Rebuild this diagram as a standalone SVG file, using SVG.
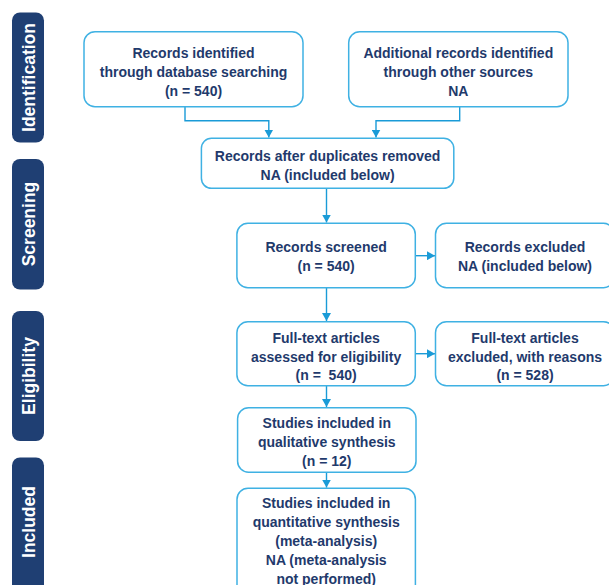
<svg xmlns="http://www.w3.org/2000/svg" width="609" height="585" viewBox="0 0 609 585">
<defs>
<marker id="ah" markerUnits="userSpaceOnUse" markerWidth="9" markerHeight="9" refX="8" refY="4.5" orient="auto">
<path d="M0,0 L8,4.5 L0,9 z" fill="#1a9bd7"/>
</marker>
<style>
.bar{fill:#1f3f73}
.bt{fill:#fff;font-family:"Liberation Sans",Arial,sans-serif;font-weight:bold;font-size:17.5px;text-anchor:middle}
.box{fill:#fff;stroke:#3fb1e3;stroke-width:1.5}
.t{fill:#1f3a6c;font-family:"Liberation Sans",Arial,sans-serif;font-weight:bold;font-size:14px;text-anchor:middle}
.c{fill:none;stroke:#1a9bd7;stroke-width:1.4;marker-end:url(#ah)}
</style>
</defs>
<rect width="609" height="585" fill="#fff"/>
<g id="stage-identification"><rect class="bar" x="12" y="12.5" width="32" height="130" rx="8"/><text class="bt" transform="translate(34.5,77.5) rotate(-90)">Identification</text></g>
<g id="stage-screening"><rect class="bar" x="12" y="159" width="32" height="130.5" rx="8"/><text class="bt" transform="translate(34.5,224) rotate(-90)">Screening</text></g>
<g id="stage-eligibility"><rect class="bar" x="12" y="311" width="32" height="130" rx="8"/><text class="bt" transform="translate(34.5,376) rotate(-90)">Eligibility</text></g>
<g id="stage-included"><rect class="bar" x="12" y="457.5" width="32" height="140" rx="8"/><text class="bt" transform="translate(34.5,522) rotate(-90)">Included</text></g>

<g id="connectors">
<path class="c" d="M185,106.7 V120.7 H268.8 V137.5"/>
<path class="c" d="M459.7,106.7 V120.7 H376 V137.5"/>
<path class="c" d="M326.5,188.3 V222.5"/>
<path class="c" d="M415.3,255.7 H435"/>
<path class="c" d="M326.5,287.7 V321"/>
<path class="c" d="M415.3,353.7 H435"/>
<path class="c" d="M326.5,385.7 V407"/>
<path class="c" d="M326.5,472.3 V487.6"/>
</g>

<g id="n-database"><rect class="box" x="84" y="31.7" width="219" height="75" rx="11"/>
<text class="t" x="193.5" y="57.7">Records identified</text>
<text class="t" x="193.5" y="76.9">through database searching</text>
<text class="t" x="193.5" y="96.1">(n = 540)</text></g>

<g id="n-other"><rect class="box" x="348.7" y="31.7" width="219.3" height="75" rx="11"/>
<text class="t" x="458.3" y="57.7">Additional records identified</text>
<text class="t" x="458.3" y="76.9">through other sources</text>
<text class="t" x="458.3" y="96.1">NA</text></g>

<g id="n-duplicates"><rect class="box" x="201.4" y="138.3" width="252.4" height="50" rx="10"/>
<text class="t" x="327.6" y="161">Records after duplicates removed</text>
<text class="t" x="327.6" y="180.2">NA (included below)</text></g>

<g id="n-screened"><rect class="box" x="236.9" y="223.3" width="178.4" height="64.4" rx="11"/>
<text class="t" x="326.1" y="251.7">Records screened</text>
<text class="t" x="326.1" y="270.9">(n = 540)</text></g>

<g id="n-excluded"><rect class="box" x="435.5" y="223.3" width="179" height="64.4" rx="11"/>
<text class="t" x="525" y="251.7">Records excluded</text>
<text class="t" x="525" y="270.9">NA (included below)</text></g>

<g id="n-fulltext"><rect class="box" x="236.9" y="321.7" width="178.4" height="64" rx="11"/>
<text class="t" x="326.1" y="342.7">Full-text articles</text>
<text class="t" x="326.1" y="361.5">assessed for eligibility</text>
<text class="t" x="326.1" y="380.3" xml:space="preserve">(n =  540)</text></g>

<g id="n-fulltext-excluded"><rect class="box" x="435.5" y="321.7" width="179" height="64" rx="11"/>
<text class="t" x="525" y="342.7">Full-text articles</text>
<text class="t" x="525" y="361.5">excluded, with reasons</text>
<text class="t" x="525" y="380.3">(n = 528)</text></g>

<g id="n-qualitative"><rect class="box" x="237.6" y="407.7" width="178.4" height="64.6" rx="11"/>
<text class="t" x="326.8" y="428.3">Studies included in</text>
<text class="t" x="326.8" y="447.1">qualitative synthesis</text>
<text class="t" x="326.8" y="465.9">(n = 12)</text></g>

<g id="n-quantitative"><rect class="box" x="237" y="488.3" width="178.4" height="110" rx="11"/>
<text class="t" x="326.2" y="508.3">Studies included in</text>
<text class="t" x="326.2" y="527.1">quantitative synthesis</text>
<text class="t" x="326.2" y="545.9">(meta-analysis)</text>
<text class="t" x="326.2" y="564.7">NA (meta-analysis</text>
<text class="t" x="326.2" y="583.5">not performed)</text></g>
</svg>
